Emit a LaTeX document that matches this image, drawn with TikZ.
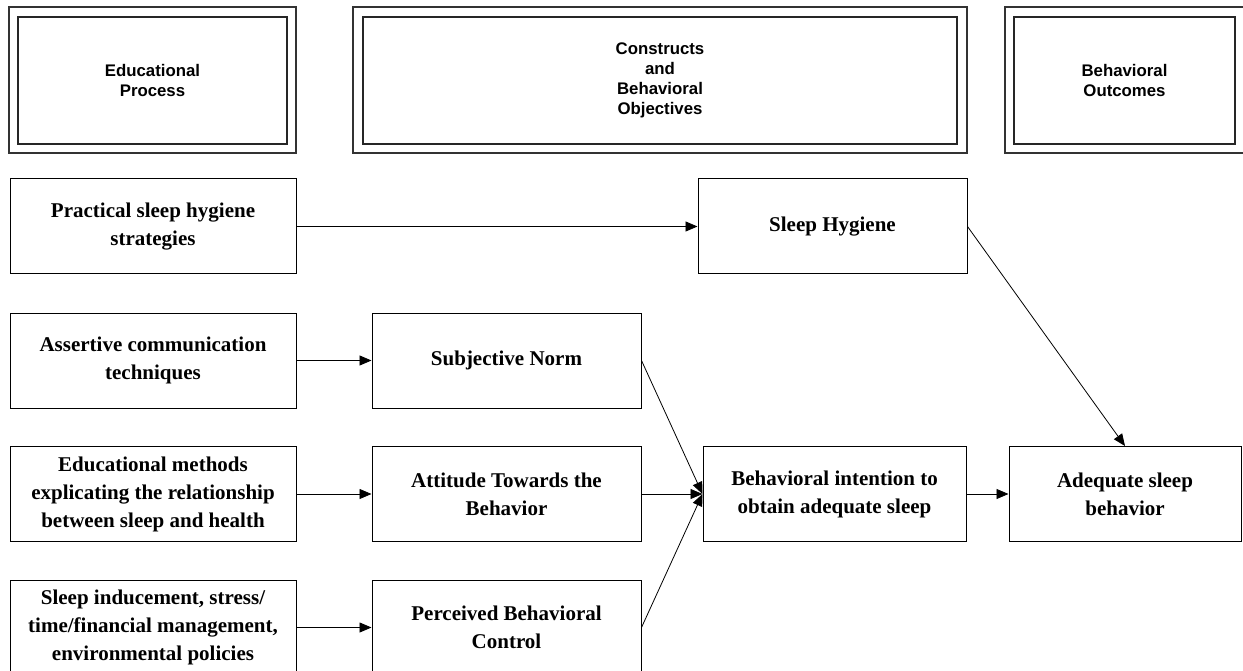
\documentclass[tikz,border=0pt]{standalone}
\usepackage{fontspec}
\setmainfont{Liberation Serif}
\newfontfamily\hdrfont{Liberation Sans}
\usetikzlibrary{arrows.meta}
\tikzset{
  frame/.style={draw=black!80, line width=1.3pt, minimum height=146pt, inner sep=0pt},
  hdrbox/.style={draw=black!85, line width=1.1pt, minimum height=127pt, inner sep=0pt, align=center,
    font=\hdrfont\bfseries\fontsize{16.8}{19.8}\selectfont},
  stagebox/.style={draw=black, line width=1pt, minimum height=95pt, inner sep=0pt, align=center,
    font=\bfseries\fontsize{21}{28}\selectfont},
  leftbox/.style={stagebox, minimum width=286pt},
  midbox/.style={stagebox, minimum width=269pt},
  conn/.style={draw=black, line width=0.8pt, -{Triangle[length=12pt,width=10pt]}},
}
\begin{document}
\begin{tikzpicture}[x=1pt,y=-1pt]
\useasboundingbox (0,0) rectangle (1243,671);
% headers
\node[frame, minimum width=287pt] (h1o) at (152.5,80) {};
\node[hdrbox, minimum width=269pt] (h1) at (152.5,80.5) {Educational\\Process};
\node[frame, minimum width=614pt] (h2o) at (660,80) {};
\node[hdrbox, minimum width=594pt] (h2) at (660,80.5) {Constructs\\and\\Behavioral\\Objectives};
\node[frame, minimum width=242pt] (h3o) at (1126,80) {};
\node[hdrbox, minimum width=221pt] (h3) at (1124.5,80.5) {Behavioral\\Outcomes};
% row 1
\node[leftbox] (prac) at (153,226.5) {Practical sleep hygiene\\strategies};
\node[stagebox, minimum width=269pt] (shyg) at (832.5,226.5) {Sleep Hygiene};
% row 2
\node[leftbox] (asrt) at (153,360.5) {Assertive communication\\techniques};
\node[midbox] (sn) at (506.5,360.5) {Subjective Norm};
% row 3
\node[leftbox] (edu) at (153,494) {Educational methods\\explicating the relationship\\between sleep and health};
\node[midbox] (att) at (506.5,494) {Attitude Towards the\\Behavior};
\node[stagebox, minimum width=263pt] (bi) at (834.5,494) {Behavioral intention to\\obtain adequate sleep};
\node[stagebox, minimum width=232pt] (adq) at (1125,494) {Adequate sleep\\behavior};
% row 4
\node[leftbox] (sind) at (153,627.5) {Sleep inducement, stress/\\time/financial management,\\environmental policies};
\node[midbox] (pbc) at (506.5,627.5) {Perceived Behavioral\\Control};
% connectors
\draw[conn] (prac.east) -- (shyg.west);
\draw[conn] (asrt.east) -- (sn.west);
\draw[conn] (edu.east) -- (att.west);
\draw[conn] (sind.east) -- (pbc.west);
\draw[conn] (sn.east) -- (bi.west);
\draw[conn] (att.east) -- (bi.west);
\draw[conn] (pbc.east) -- (bi.west);
\draw[conn] (bi.east) -- (adq.west);
\draw[conn] (shyg.east) -- (adq.north);
\end{tikzpicture}
\end{document}
